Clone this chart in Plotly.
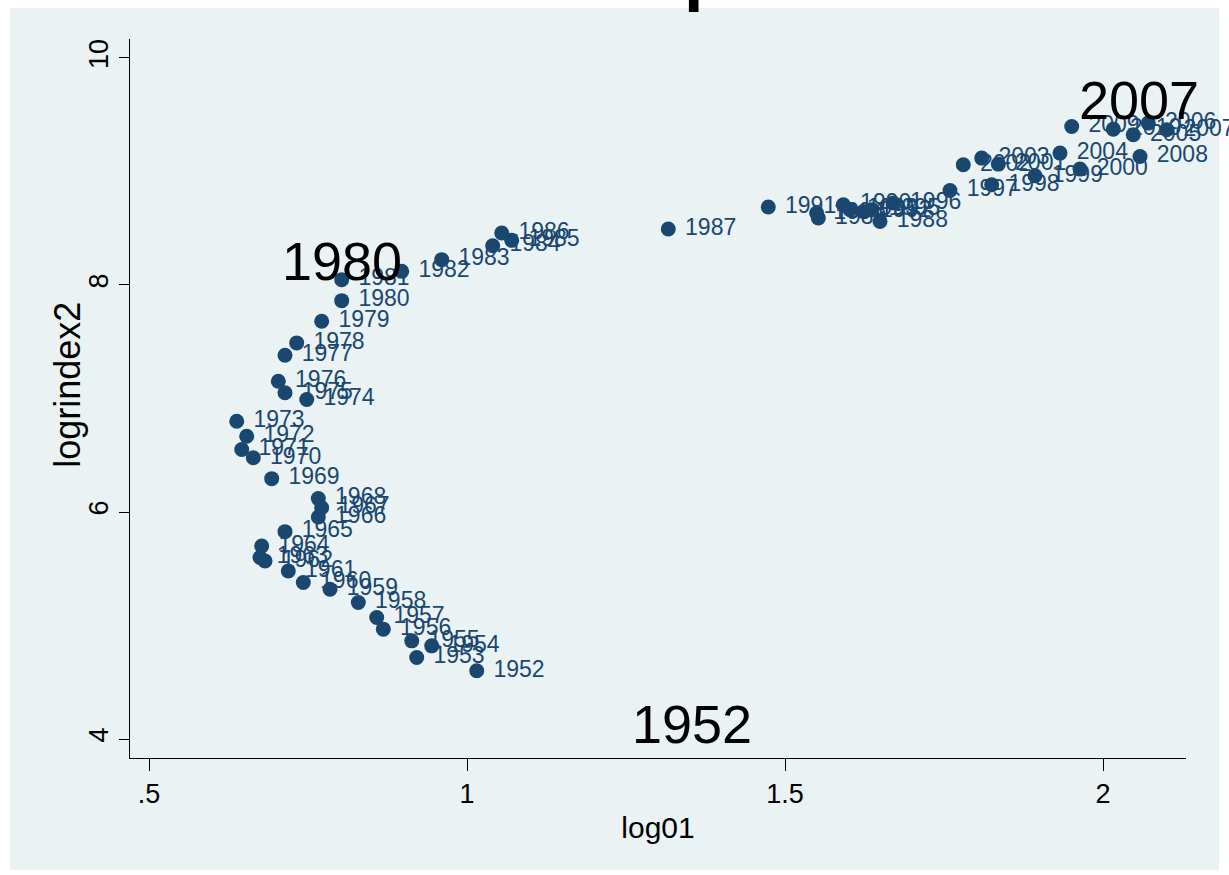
import plotly.graph_objects as go

years = list(range(1952, 2011))
log01 = [1.0153, 0.9209, 0.9445, 0.9131, 0.8684, 0.8580, 0.8291, 0.7846, 0.7426, 0.7190,
         0.6824, 0.6745, 0.6772, 0.7138, 0.7662, 0.7715, 0.7662, 0.6929, 0.6640, 0.6458,
         0.6536, 0.6379, 0.7480, 0.7138, 0.7033, 0.7138, 0.7322, 0.7715, 0.8030, 0.8030,
         0.8973, 0.9602, 1.0404, 1.0703, 1.0546, 1.3165, 1.6494, 1.5524, 1.5917, 1.4737,
         1.6231, 1.6022, 1.5497, 1.6368, 1.6703, 1.7594, 1.8250, 1.8931, 1.9638, 1.8354,
         1.7803, 1.8093, 1.9324, 2.0476, 2.0712, 2.1001, 2.0582, 1.9508, 2.0162]
logrindex2 = [4.601, 4.719, 4.821, 4.865, 4.968, 5.071, 5.203, 5.320, 5.379, 5.481,
              5.569, 5.599, 5.701, 5.827, 5.956, 6.038, 6.118, 6.294, 6.478, 6.551,
              6.668, 6.800, 6.991, 7.050, 7.152, 7.381, 7.490, 7.680, 7.862, 8.047,
              8.120, 8.223, 8.346, 8.393, 8.458, 8.493, 8.560, 8.590, 8.707, 8.687,
              8.648, 8.663, 8.634, 8.663, 8.722, 8.833, 8.883, 8.962, 9.021, 9.065,
              9.059, 9.118, 9.162, 9.323, 9.426, 9.367, 9.132, 9.396, 9.373]

ann_labels = ["2007", "1980", "1952"]
ann_x = [2.0566, 0.803, 1.3538]
ann_y = [9.63, 8.215, 4.13]

x_ticks = [0.5, 1, 1.5, 2]
x_ticktext = [".5", "1", "1.5", "2"]
y_ticks = [4, 6, 8, 10]
y_ticktext = ["4", "6", "8", "10"]

NAVY = "#1a476f"
BG = "#eaf2f3"
FONT = "Liberation Sans, Arial, sans-serif"

fig = go.Figure()
fig.add_trace(go.Scatter(
    x=log01, y=logrindex2, mode="markers+text",
    text=["\u00a0" + str(y) for y in years],
    textposition="middle right",
    textfont=dict(family=FONT, size=23, color=NAVY),
    marker=dict(size=15, color=NAVY, line=dict(width=0)),
    hoverinfo="x+y+text", showlegend=False, cliponaxis=False,
))

for t, xv, yv in zip(ann_labels, ann_x, ann_y):
    fig.add_annotation(x=xv, y=yv, text=t, showarrow=False,
                       font=dict(family=FONT, size=54, color="black"),
                       xanchor="center", yanchor="middle")

# fragment of a cut-off title at the very top
fig.add_annotation(xref="paper", yref="paper", x=0.545, y=1.0347, text="<b>p</b>",
                   showarrow=False, xanchor="center", yanchor="bottom",
                   font=dict(family=FONT, size=70, color="black"))

# y-axis title placed as an annotation for exact position
fig.add_annotation(xref="paper", yref="paper", x=(68 - 130) / 1056, y=0.519,
                   text="logrindex2", textangle=-90, showarrow=False,
                   xanchor="center", yanchor="middle",
                   font=dict(family=FONT, size=36, color="black"))

# graph region background
fig.add_shape(type="rect", xref="paper", yref="paper",
              x0=(10 - 130) / 1056, x1=(1219 - 130) / 1056,
              y0=(758 - 870) / 719, y1=(758 - 8) / 719,
              fillcolor=BG, line=dict(width=0), layer="below")

fig.update_layout(
    width=1229, height=875,
    margin=dict(l=130, r=43, t=39, b=117),
    paper_bgcolor="white", plot_bgcolor="white",
    font=dict(family=FONT, color="black"),
    xaxis=dict(range=[0.4701, 2.1305], tickvals=x_ticks, ticktext=x_ticktext,
               showgrid=False, zeroline=False, showline=True, linecolor="black", linewidth=1,
               ticks="outside", ticklen=12, tickcolor="black", tickfont=dict(size=27),
               title=dict(text="log01", font=dict(size=30), standoff=8)),
    yaxis=dict(range=[3.833, 10.167], tickvals=y_ticks, ticktext=y_ticktext,
               showgrid=True, gridcolor=BG, gridwidth=3, zeroline=False,
               showline=True, linecolor="black", linewidth=1,
               ticks="outside", ticklen=10, tickcolor="black", tickfont=dict(size=27),
               tickangle=-90),
)

fig.write_html("out.html", config={"displayModeBar": False},
               post_script="document.body.style.margin='0';document.body.style.overflow='hidden';")
